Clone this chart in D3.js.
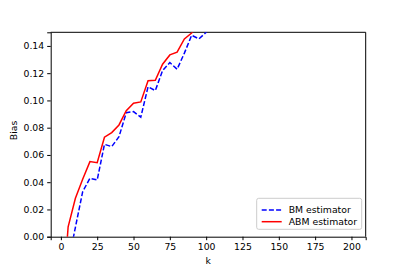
<!DOCTYPE html>
<html lang="en">
<head>
<meta charset="UTF-8">
<title>Bias vs k</title>
<script src="https://d3js.org/d3.v7.min.js"></script>
<style>
    body { margin: 0; background: #fff; }
    text { font-family: "DejaVu Sans", sans-serif; fill: #000; }
    .tick text { font-size: 9.3px; }
    .domain { stroke: #000; stroke-width: 1px; }
    .tick line { stroke: #000; stroke-width: 1px; }
</style>
</head>
<body>
<script>
    var kValues = [0, 5, 10, 15, 20, 25, 30, 35, 40, 45, 50, 55, 60, 65, 70, 75, 80, 85, 90, 95, 100, 105];
    var bmBias  = [-0.08, -0.0196, 0.0069, 0.033, 0.0429, 0.0416, 0.0678, 0.0661, 0.0734, 0.091, 0.0918, 0.0877,
                   0.110, 0.1072, 0.1219, 0.1278, 0.1229, 0.1347, 0.1478, 0.1452, 0.1500, 0.156];
    var abmBias = [-0.066, 0.0073, 0.0282, 0.0421, 0.0551, 0.0543, 0.073, 0.0764, 0.082, 0.0925, 0.098, 0.0989,
                   0.1145, 0.1148, 0.1266, 0.1334, 0.1354, 0.1451, 0.1495, 0.155, 0.16, 0.165];
    var xTicks = [0, 25, 50, 75, 100, 125, 150, 175, 200];
    var yTicks = [0, 0.02, 0.04, 0.06, 0.08, 0.10, 0.12, 0.14];
    var seriesNames = ["BM estimator", "ABM estimator"];

    var width = 407, height = 271;
    var margin = {top: 32.3, right: 41.3, bottom: 34.3, left: 50.7};
    var plotW = width - margin.left - margin.right,
        plotH = height - margin.top - margin.bottom;

    var svg = d3.select("body").append("svg")
        .attr("width", width)
        .attr("height", height);

    var x = d3.scaleLinear().domain([-7, 209.8]).range([0, plotW]);
    var y = d3.scaleLinear().domain([0, 0.15]).range([plotH, 0]);

    var g = svg.append("g")
        .attr("transform", "translate(" + margin.left + "," + margin.top + ")");

    svg.append("defs").append("clipPath").attr("id", "clip")
        .append("rect").attr("width", plotW).attr("height", plotH);

    // axes
    g.append("g")
        .attr("transform", "translate(0," + plotH + ")")
        .call(d3.axisBottom(x).tickValues(xTicks).tickSize(3.5).tickPadding(3).tickFormat(d3.format("d")));

    g.append("g")
        .call(d3.axisLeft(y).tickValues(yTicks).tickSize(3.5).tickPadding(3).tickFormat(d3.format(".2f")));

    // top and right spines
    g.append("line").attr("x1", 0).attr("x2", plotW).attr("y1", 0).attr("y2", 0)
        .attr("stroke", "#000");
    g.append("line").attr("x1", plotW).attr("x2", plotW).attr("y1", 0).attr("y2", plotH)
        .attr("stroke", "#000");

    var line = function(vals) {
        return d3.line()
            .x(function(d, i) { return x(kValues[i]); })
            .y(function(d) { return y(d); })(vals);
    };

    var lines = g.append("g").attr("clip-path", "url(#clip)");

    lines.append("path")
        .attr("d", line(bmBias))
        .attr("fill", "none")
        .attr("stroke", "#0000ff")
        .attr("stroke-width", 1.5)
        .attr("stroke-dasharray", "5,2.2");

    lines.append("path")
        .attr("d", line(abmBias))
        .attr("fill", "none")
        .attr("stroke", "#ff0000")
        .attr("stroke-width", 1.5);

    // axis labels
    svg.append("text")
        .attr("x", margin.left + plotW / 2)
        .attr("y", 264)
        .attr("text-anchor", "middle")
        .style("font-size", "9.3px")
        .text("k");

    svg.append("text")
        .attr("transform", "translate(17," + (margin.top + plotH / 2 - 4) + ") rotate(-90)")
        .attr("text-anchor", "middle")
        .style("font-size", "9.3px")
        .text("Bias");

    // legend
    var legend = svg.append("g").attr("transform", "translate(256.7,198.3)");
    legend.append("rect")
        .attr("width", 105).attr("height", 31)
        .attr("rx", 2)
        .attr("fill", "#fff")
        .attr("fill-opacity", 0.8)
        .attr("stroke", "#ccc")
        .attr("stroke-width", 1);

    var colors = ["#0000ff", "#ff0000"];
    var dashes = ["5,2.2", null];
    seriesNames.forEach(function(name, i) {
        var yy = 11.7 + i * 11.7;
        legend.append("line")
            .attr("x1", 5).attr("x2", 25)
            .attr("y1", yy).attr("y2", yy)
            .attr("stroke", colors[i])
            .attr("stroke-width", 1.5)
            .attr("stroke-dasharray", dashes[i]);
        legend.append("text")
            .attr("x", 32)
            .attr("y", yy + 3.3)
            .style("font-size", "9.3px")
            .text(name);
    });
</script>
</body>
</html>
